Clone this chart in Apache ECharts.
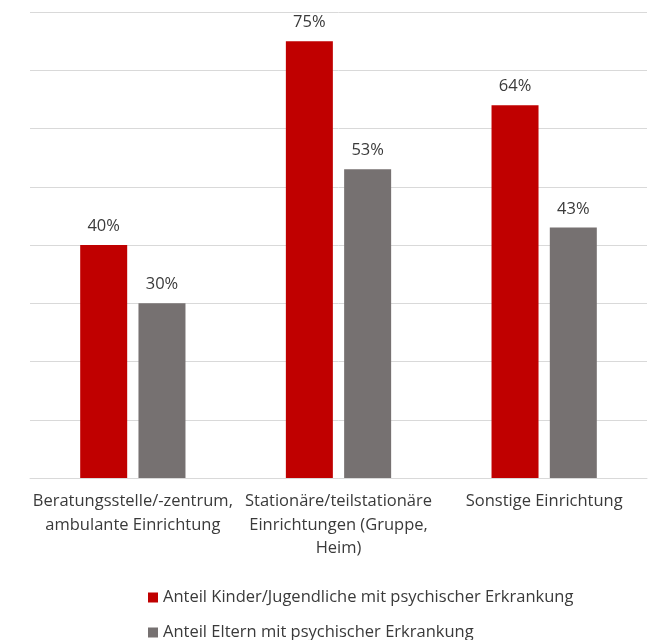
<!DOCTYPE html>
<html><head><meta charset="utf-8">
<script src="https://cdn.jsdelivr.net/npm/echarts@6/dist/echarts.min.js"></script>
<style>html,body{margin:0;padding:0;background:#fff}#c{width:649px;height:640px}</style>
</head><body><div id="c"></div>
<script>
const categories = ["Beratungsstelle/-zentrum,\nambulante Einrichtung", "Stationäre/teilstationäre\nEinrichtungen (Gruppe,\nHeim)", "Sonstige Einrichtung"];
const seriesNames = ["Anteil Kinder/Jugendliche mit psychischer Erkrankung", "Anteil Eltern mit psychischer Erkrankung"];
const kinderValues = [40, 75, 64];
const elternValues = [30, 53, 43];
const FONT = "Open Sans";
const FS = 16.5;
const TXT = '#3a3a3a';
const legendBase = {
  orient: 'vertical', left: 143, itemWidth: 10, itemHeight: 10,
  icon: 'rect', textStyle: {fontFamily: FONT, fontSize: FS, color: TXT}
};
const chart = echarts.init(document.getElementById('c'), null, {renderer: 'canvas'});
chart.setOption({
  animation: false,
  textStyle: {fontFamily: FONT},
  grid: {left: 30, right: 2, top: 12, bottom: 162},
  legend: [
    Object.assign({}, legendBase, {top: 584, data: [seriesNames[0]]}),
    Object.assign({}, legendBase, {top: 619, data: [seriesNames[1]]})
  ],
  xAxis: {
    type: 'category', data: categories,
    axisLine: {lineStyle: {color: '#d9d9d9'}}, axisTick: {show: false},
    axisLabel: {fontFamily: FONT, fontSize: FS, color: TXT, lineHeight: 23.5, margin: 12, interval: 0}
  },
  yAxis: {
    type: 'value', min: 0, max: 80, interval: 10,
    axisLabel: {show: false}, axisLine: {show: false}, axisTick: {show: false},
    splitLine: {lineStyle: {color: '#d9d9d9'}}
  },
  series: [
    {name: seriesNames[0], type: 'bar', data: kinderValues, barWidth: 47, barGap: '24%',
     itemStyle: {color: '#C00000'},
     label: {show: true, position: 'top', formatter: '{c}%', distance: 10, fontFamily: FONT, fontSize: FS, color: TXT}},
    {name: seriesNames[1], type: 'bar', data: elternValues, barWidth: 47,
     itemStyle: {color: '#767171'},
     label: {show: true, position: 'top', formatter: '{c}%', distance: 10, fontFamily: FONT, fontSize: FS, color: TXT}}
  ]
});
</script></body></html>
